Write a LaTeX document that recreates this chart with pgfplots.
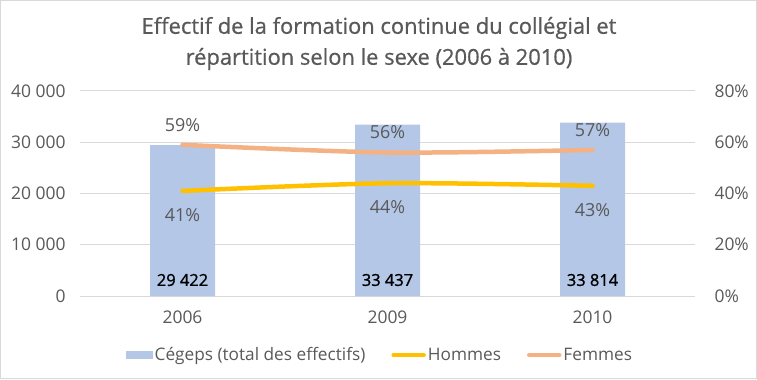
\documentclass[border=0pt]{standalone}
\usepackage{pgfplots}
\pgfplotsset{compat=1.18}
\usepackage{fontspec}
\setmainfont{Open Sans}
\newfontfamily\semib{Open Sans}[FakeBold=1.2]
\newfontfamily\titlef{Open Sans}[FakeBold=0.7]
\definecolor{barc}{HTML}{B4C7E7}
\definecolor{hom}{HTML}{FFC000}
\definecolor{fem}{HTML}{F4B183}
\definecolor{txt}{HTML}{595959}
\definecolor{gridc}{HTML}{D9D9D9}
\begin{document}
\begin{tikzpicture}[x=1bp,y=1bp]
\draw[gridc, line width=1bp] (0.5,0.5) rectangle (756.5,378.5);
\node[txt, font=\titlef\fontsize{22}{26}\selectfont] at (379,351) {Effectif de la formation continue du collégial et};
\node[txt, font=\titlef\fontsize{22}{26}\selectfont] at (379,320) {répartition selon le sexe (2006 à 2010)};
\begin{axis}[at={(80bp,83bp)}, anchor=south west, width=615bp, height=205bp, scale only axis,
  xmin=-0.5, xmax=2.5, ymin=0, ymax=40000,
  scaled y ticks=false,
  xtick={0,1,2}, xticklabels={2006,2009,2010},
  ytick={0,10000,20000,30000,40000}, yticklabels={0,10 000,20 000,30 000,40 000},
  axis line style={draw=none}, major tick length=0pt,
  ymajorgrids, grid style={gridc, line width=1bp},
  ticklabel style={txt, font=\fontsize{17.5}{21}\selectfont},
  yticklabel style={xshift=-11bp},
  xticklabel style={yshift=-11bp},
  /pgf/number format/assume math mode=true,
  clip=false]
\addplot[ybar, bar width=65bp, fill=barc, draw=none] coordinates {(0,29422) (1,33437) (2,33814)};
\addplot[draw=none, nodes near coords, point meta=explicit symbolic,
  nodes near coords style={anchor=center, yshift=16bp, text=black, font=\semib\fontsize{16.5}{19}\selectfont}]
  coordinates {(0,0) [29 422] (1,0) [33 437] (2,0) [33 814]};
\end{axis}
\begin{axis}[at={(80bp,83bp)}, anchor=south west, width=615bp, height=205bp, scale only axis,
  xmin=-0.5, xmax=2.5, ymin=0, ymax=80,
  axis y line*=right, hide x axis,
  ytick={0,20,40,60,80}, yticklabels={0\%,20\%,40\%,60\%,80\%},
  axis line style={draw=none}, major tick length=0pt,
  ticklabel style={txt, font=\fontsize{17.5}{21}\selectfont},
  yticklabel style={xshift=16bp},
  /pgf/number format/assume math mode=true,
  clip=false,
  legend columns=3,
  legend style={draw=none, fill=none, at={(0.488,-0.288)}, anchor=center,
    font=\fontsize{17.3}{20}\selectfont, text=txt,
    /tikz/every even column/.append style={column sep=24bp}},
  legend cell align=left]
\addlegendimage{legend image code/.code={\fill[barc] (0bp,-3.5bp) rectangle (26bp,3.5bp);}}
\addlegendentry{Cégeps (total des effectifs)}
\addplot[hom, line width=4.5bp, smooth, tension=0.5, line cap=round,
  nodes near coords={\pgfmathprintnumber{\pgfplotspointmeta}\%}, point meta=y,
  nodes near coords style={anchor=center, yshift=-24bp, text=txt, font=\fontsize{18}{21}\selectfont},
  legend image code/.code={\draw[hom, line width=4.5bp, line cap=round] (0bp,0bp) -- (30bp,0bp);}]
  coordinates {(0,41) (1,44) (2,43)};
\addlegendentry{Hommes}
\addplot[fem, line width=4.5bp, smooth, tension=0.5, line cap=round,
  nodes near coords={\pgfmathprintnumber{\pgfplotspointmeta}\%}, point meta=y,
  nodes near coords style={anchor=center, yshift=20bp, text=txt, font=\fontsize{18}{21}\selectfont},
  legend image code/.code={\draw[fem, line width=4.5bp, line cap=round] (0bp,0bp) -- (30bp,0bp);}]
  coordinates {(0,59) (1,56) (2,57)};
\addlegendentry{Femmes}
\end{axis}
\end{tikzpicture}
\end{document}
